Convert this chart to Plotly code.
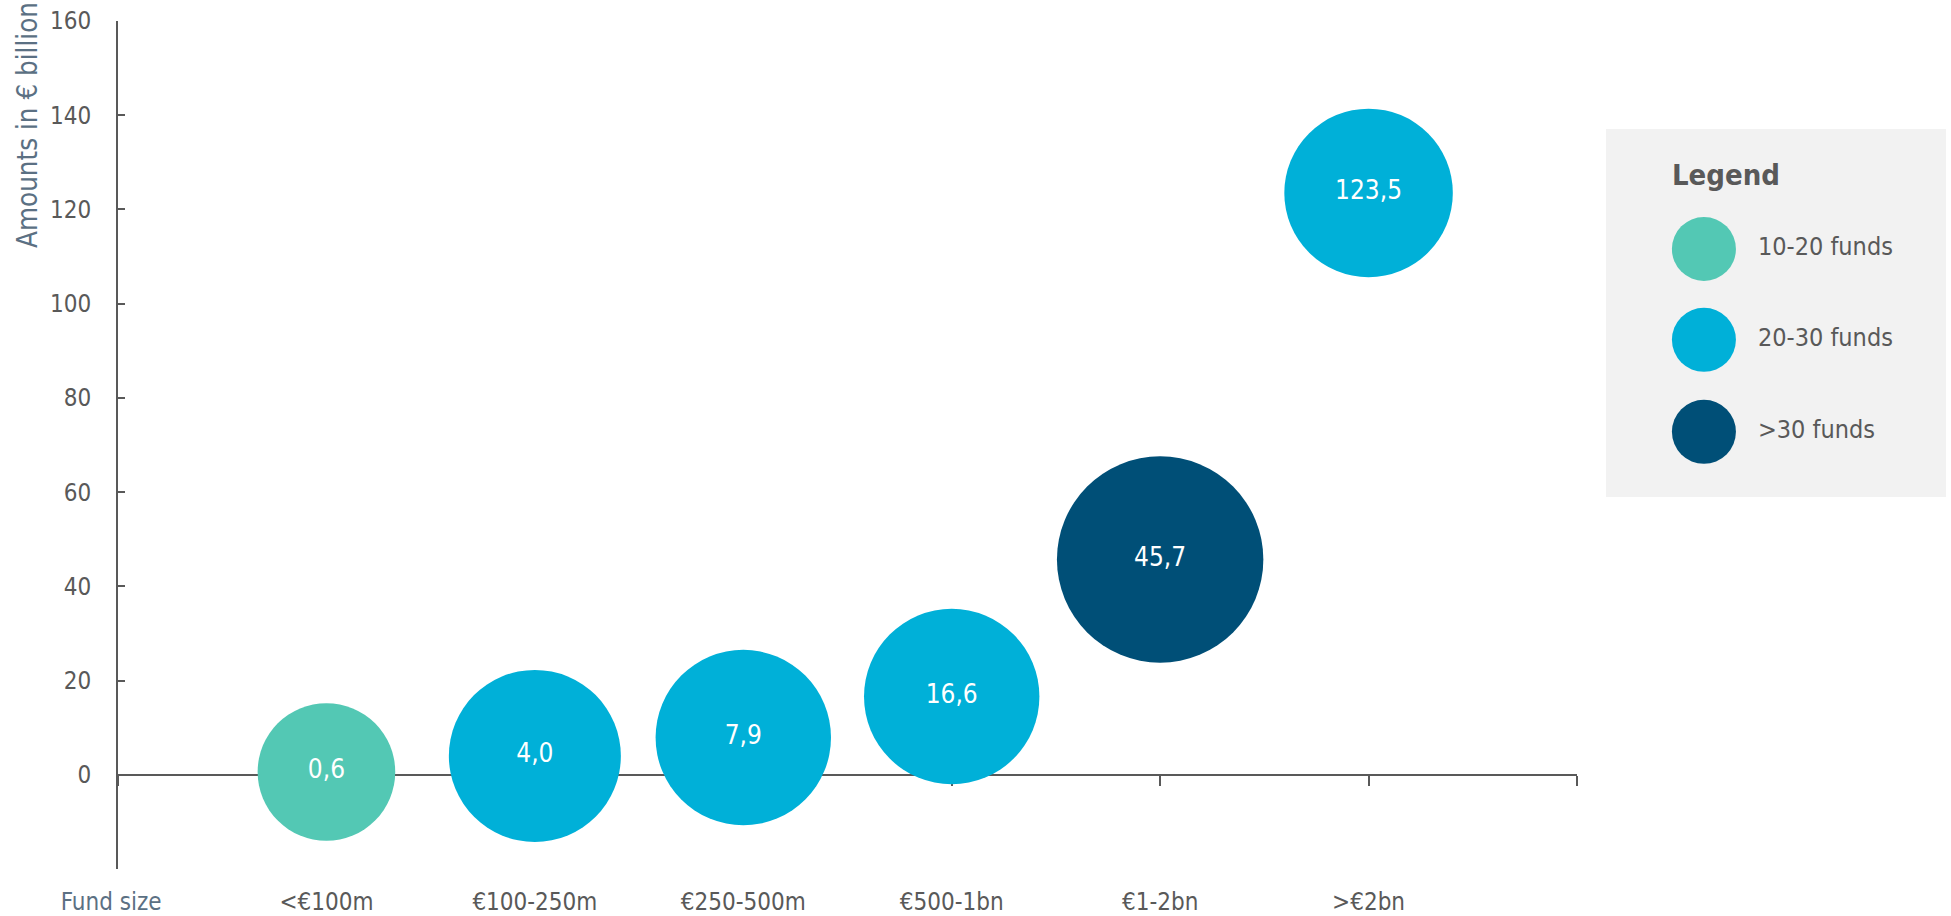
import plotly.graph_objects as go

# ---- data ----
categories = ["<€100m", "€100-250m", "€250-500m", "€500-1bn", "€1-2bn", ">€2bn"]
amounts = [0.6, 4.0, 7.9, 16.6, 45.7, 123.5]          # € billion
fund_counts = [16, 25, 26, 26, 36, 24]                 # bubble size (number of funds, estimated)
groups = ["10-20 funds", "20-30 funds", "20-30 funds", "20-30 funds", ">30 funds", "20-30 funds"]

legend_labels = ["10-20 funds", "20-30 funds", ">30 funds"]
group_colors = {"10-20 funds": "#53C8B4", "20-30 funds": "#00B0D8", ">30 funds": "#004F77"}

y_ticks = [-20, 0, 20, 40, 60, 80, 100, 120, 140, 160]

FONT = "'DejaVu Sans Condensed', 'DejaVu Sans', sans-serif"
GRAY = "#595959"
SLATE = "#5B7083"

W, H = 1951, 916
ML, MR, MT, MB = 118, 0, 21, 47
plot_w = W - ML - MR
main_w = 1459
dom_main = [0, main_w / plot_w]

x_pos = list(range(1, len(categories) + 1))
labels = [f"{v:.1f}".replace(".", ",") for v in amounts]
colors = [group_colors[g] for g in groups]

fig = go.Figure()

fig.add_trace(go.Scatter(
    x=x_pos, y=amounts, mode="markers+text",
    text=labels, textposition="middle center",
    textfont=dict(family=FONT, size=26, color="white"),
    marker=dict(size=fund_counts, sizemode="area", sizeref=2 * 25 / 172 ** 2,
                color=colors, line=dict(width=0), opacity=1),
    cliponaxis=False,
    hoverinfo="skip", showlegend=False,
))

# dummy trace for the label axis
fig.add_trace(go.Scatter(x=[0], y=[None], xaxis="x2", yaxis="y",
                         mode="markers", showlegend=False, hoverinfo="skip"))

# legend drawn in its own small axis
leg_y = [0.674, 0.427, 0.177]
fig.add_trace(go.Scatter(
    x=[0.288] * 3, y=leg_y, mode="markers",
    marker=dict(size=64, color=[group_colors[g] for g in legend_labels]),
    xaxis="x3", yaxis="y3", showlegend=False, hoverinfo="skip"))
fig.add_trace(go.Scatter(
    x=[0.447] * 3, y=leg_y, mode="text", text=legend_labels,
    textposition="middle right",
    textfont=dict(family=FONT, size=25, color=GRAY),
    xaxis="x3", yaxis="y3", showlegend=False, hoverinfo="skip"))

tick_text = [f"<span style='color:{SLATE}'>Fund size</span>&nbsp;&nbsp;"] + categories

fig.update_layout(
    width=W, height=H,
    margin=dict(l=ML, r=MR, t=MT, b=MB),
    paper_bgcolor="white", plot_bgcolor="white",
    font=dict(family=FONT, size=24, color=GRAY),
    xaxis=dict(
        domain=dom_main, range=[0, 7], anchor="free",
        position=20 / 180,
        showline=True, linecolor=GRAY, linewidth=2,
        ticks="outside", ticklen=10, tickwidth=1.5, tickcolor=GRAY,
        tickvals=list(range(0, 8)), showticklabels=False,
        showgrid=False, zeroline=False, layer="below traces",
    ),
    xaxis2=dict(
        overlaying="x", anchor="y", side="bottom", range=[0, 7],
        tickvals=list(range(0, len(categories) + 1)), ticktext=tick_text,
        ticks="", showline=False, showgrid=False, zeroline=False,
        tickfont=dict(family=FONT, size=24, color=GRAY),
        ticklabelstandoff=16,
    ),
    yaxis=dict(
        range=[-20, 160], tickvals=y_ticks,
        ticktext=["" if v < 0 else str(v) for v in y_ticks],
        showline=True, linecolor=GRAY, linewidth=2,
        ticks="inside", ticklen=7, tickwidth=1.5, tickcolor=GRAY,
        tickfont=dict(family=FONT, size=24, color=GRAY),
        showgrid=False, zeroline=False, anchor="x",
        ticklabelstandoff=20,
    ),
    xaxis3=dict(domain=[(1606 - ML) / plot_w, (1946 - ML) / plot_w], range=[0, 1],
                visible=False, anchor="y3"),
    yaxis3=dict(domain=[(H - MB - 497) / (H - MT - MB), (H - MB - 129) / (H - MT - MB)],
                range=[0, 1], visible=False, anchor="x3"),
    shapes=[dict(type="rect", xref="x3 domain", yref="y3 domain",
                 x0=0, x1=1, y0=0, y1=1, fillcolor="#F2F2F2",
                 line=dict(width=0), layer="below")],
    annotations=[
        dict(text="<b>Legend</b>", xref="x3", yref="y3", x=0.188, y=0.875,
             xanchor="left", yanchor="middle", showarrow=False,
             font=dict(family=FONT, size=29, color=GRAY)),
        dict(text="Amounts in € billion", xref="paper", yref="paper",
             x=(27 - ML) / plot_w, y=(H - MB) / (H - MT - MB),
             xanchor="center", yanchor="top", textangle=-90, showarrow=False,
             font=dict(family=FONT, size=27.5, color=SLATE)),
    ],
)

fig.write_html("out.html")
